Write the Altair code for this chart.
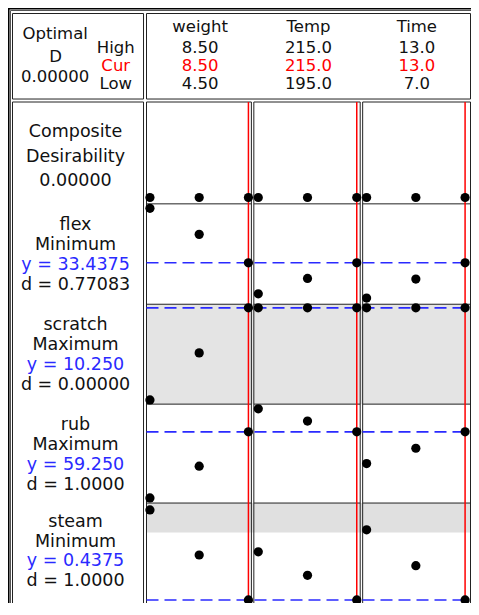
import altair as alt
import pandas as pd

# ---------------- data ----------------
factors = ["weight", "Temp", "Time"]
factor_low = [4.5, 195.0, 7.0]
factor_high = [8.5, 215.0, 13.0]
factor_cur = [8.5, 215.0, 13.0]
factor_decimals = [2, 1, 1]
factor_levels = [[4.5, 6.5, 8.5], [195.0, 205.0, 215.0], [7.0, 10.0, 13.0]]

optimal_d = "0.00000"
composite_d = "0.00000"
responses = ["flex", "scratch", "rub", "steam"]
goals = ["Minimum", "Maximum", "Maximum", "Minimum"]
pred_y = ["33.4375", "10.250", "59.250", "0.4375"]
desir = ["0.77083", "0.00000", "1.0000", "1.0000"]

# relative height of each point inside its row (0 = row bottom, 1 = row top)
# one list per factor, values at low / mid / high setting
composite_rel = [[0.0625, 0.0625, 0.0625]] * 3
flex_rel = [[0.956, 0.696, 0.413], [0.104, 0.257, 0.413], [0.061, 0.251, 0.413]]
scratch_rel = [[0.042, 0.513, 0.964], [0.964, 0.964, 0.964], [0.964, 0.964, 0.964]]
rub_rel = [[0.052, 0.373, 0.720], [0.953, 0.829, 0.720], [0.399, 0.554, 0.720]]
steam_rel = [[0.932, 0.485, 0.039], [0.517, 0.284, 0.039], [0.735, 0.379, 0.039]]
current_rel = [0.413, 0.964, 0.720, 0.039]

# ---------------- layout (reference-frame pixels) ----------------
W, H = 463, 595
panel_left = [147.5, 256.5, 367.0]
panel_right = [254.0, 364.5, 476.5]
span_start = [151.0, 261.0, 371.0]
SPAN = 100.0
row_edges = [102.5, 206.5, 309.0, 411.0, 512.0, 615.0]
LINE = "#222222"
BLUE = "#2a2aff"
RED = "#ff0000"
FONT = "DejaVu Sans"
BOTTOM = 660


def fx(c, v):
    return span_start[c] + SPAN * (v - factor_low[c]) / (factor_high[c] - factor_low[c])


def fy(r, rel):
    top, bot = row_edges[r], row_edges[r + 1]
    return bot - rel * (bot - top)


# dots
all_rel = [composite_rel, flex_rel, scratch_rel, rub_rel, steam_rel]
pts = []
for r, rel in enumerate(all_rel):
    for c in range(3):
        for k, v in enumerate(factor_levels[c]):
            pts.append({"x": fx(c, v), "y": fy(r, rel[c][k])})
pts = pd.DataFrame(pts)

# structural lines
lines = []


def seg(x, y, x2, y2, w=1.0, col=LINE):
    lines.append({"x": x, "y": y, "x2": x2, "y2": y2, "w": w, "c": col})


def box(l, t, r, b, w=1.0, col=LINE):
    seg(l, t, r, t, w, col)
    seg(l, b, r, b, w, col)
    seg(l, t, l, b, w, col)
    seg(r, t, r, b, w, col)


seg(7, 6, 7, BOTTOM, 2.0, "#000000")
seg(6, 7, 490, 7, 2.0, "#000000")
seg(10.5, 10.5, 10.5, BOTTOM, 1.0, "#555555")
seg(10.5, 10.5, 490, 10.5, 1.0, "#555555")
box(12.5, 13.5, 144.5, 99.5)
box(147.5, 13.5, 476.5, 99.5)
box(12.5, 102.5, 144.5, BOTTOM)
for c in range(3):
    box(panel_left[c], 102.5, panel_right[c], BOTTOM)
    for yy in row_edges[1:-1]:
        seg(panel_left[c], yy, panel_right[c], yy)
lines = pd.DataFrame(lines)

# current-setting red lines
red = pd.DataFrame([{"x": fx(c, factor_cur[c]), "y": row_edges[0], "y2": BOTTOM} for c in range(3)])

# blue dashed current response lines
blue = pd.DataFrame([{"x": panel_left[0], "x2": panel_right[2], "y": fy(r + 1, current_rel[r])}
                     for r in range(len(responses))])

# watermark-like gray bands
bands = pd.DataFrame([
    {"x": panel_left[0], "x2": panel_right[2], "y": row_edges[2], "y2": row_edges[3], "f": "#e4e4e4"},
    {"x": panel_left[0], "x2": panel_right[2], "y": row_edges[4], "y2": row_edges[4] + 30, "f": "#e0e0e0"},
])

# texts
texts = []


def txt(x, y, t, col="#111111", size=17.0):
    texts.append({"x": x, "y": y, "t": t, "c": col, "s": size})


HS = 16.5
txt(55.5, 39.5, "Optimal", size=HS)
txt(56, 62.5, "D", size=HS)
txt(55.5, 82.5, optimal_d, size=HS)
txt(116.5, 53.5, "High", size=HS)
txt(116.5, 71, "Cur", RED, HS)
txt(116.5, 89.5, "Low", size=HS)
for c in range(3):
    cx = span_start[c] + SPAN / 2 + 1
    fmt = "{:.%df}" % factor_decimals[c]
    txt(cx, 32, factors[c], size=HS)
    txt(cx, 53.5, fmt.format(factor_high[c]), size=HS)
    txt(cx, 71, fmt.format(factor_cur[c]), RED, HS)
    txt(cx, 89.5, fmt.format(factor_low[c]), size=HS)

LX = 76
LS = 17.5
txt(LX, 138, "Composite", size=LS)
txt(LX, 163.5, "Desirability", size=LS)
txt(LX, 188, composite_d, size=LS)
for r in range(len(responses)):
    top = row_edges[r + 1]
    b0 = top + (26.5 if r < 3 else 24.5)
    sp = 20.5 if r < 3 else 20.0
    txt(LX, b0, responses[r], size=LS)
    txt(LX, b0 + sp, goals[r], size=LS)
    txt(LX, b0 + 2 * sp, "y = " + pred_y[r], BLUE, LS)
    txt(LX, b0 + 3 * sp, "d = " + desir[r], size=LS)
texts = pd.DataFrame(texts)

# ---------------- chart ----------------
# piecewise scales squeeze the reference frame (6..479 x 6..616) into the page area
xs = alt.Scale(domain=[6, 10.5, 12.5, 147.5, 476.5, 500],
               range=[0, 2.5, 4.5, 138.5, 462.5, 486], nice=False, zero=False)
ys = alt.Scale(domain=[6, 10.5, 13.5, 102.5, 611, 700],
               range=[0, 2.5, 5.5, 94, 592, 681], nice=False, zero=False)
X = lambda f: alt.X(f, type="quantitative", scale=xs, axis=None)
Y = lambda f: alt.Y(f, type="quantitative", scale=ys, axis=None)

band_layer = alt.Chart(bands).mark_rect().encode(
    x=X("x"), x2="x2", y=Y("y"), y2="y2", color=alt.Color("f:N", scale=None)
)
line_layer = alt.Chart(lines).mark_rule().encode(
    x=X("x"), x2="x2", y=Y("y"), y2="y2",
    color=alt.Color("c:N", scale=None), strokeWidth=alt.StrokeWidth("w:Q", scale=None)
)
red_layer = alt.Chart(red).mark_rule(color=RED, strokeWidth=1.5).encode(
    x=X("x"), y=Y("y"), y2="y2"
)
blue_layer = alt.Chart(blue).mark_rule(color=BLUE, strokeWidth=1.6, strokeDash=[12, 6]).encode(
    x=X("x"), x2="x2", y=Y("y")
)
dot_layer = alt.Chart(pts).mark_circle(color="#000000", opacity=1, size=85).encode(
    x=X("x"), y=Y("y")
)
text_layer = alt.Chart(texts).mark_text(font=FONT, baseline="alphabetic", align="center").encode(
    x=X("x"), y=Y("y"), text="t:N",
    color=alt.Color("c:N", scale=None), size=alt.Size("s:Q", scale=None)
)

chart = alt.layer(band_layer, line_layer, red_layer, blue_layer, dot_layer, text_layer).properties(
    width=W, height=H, padding=0, autosize=alt.AutoSizeParams(type="none"),
    background="#ffffff"
).configure_view(strokeWidth=0)

chart.save("out.html", embed_options={"renderer": "svg", "actions": False})
